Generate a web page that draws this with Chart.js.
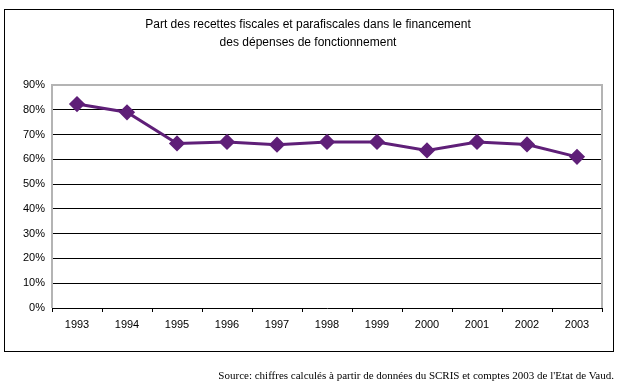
<!DOCTYPE html>
<html lang="fr">
<head>
<meta charset="utf-8">
<script src="https://cdn.jsdelivr.net/npm/chart.js@4"></script>
<style>
  html, body { margin: 0; padding: 0; background: #fff; }
  #wrap { position: relative; width: 623px; height: 392px; }
  #source {
    position: absolute; right: 9px; top: 369px;
    font: 11px "Liberation Serif", "DejaVu Serif", serif; color: #000;
    white-space: nowrap;
  }
</style>
</head>
<body>
<div id="wrap">
  <canvas id="chart" width="623" height="392"></canvas>
  <div id="source">Source: chiffres calculés à partir de données du SCRIS et comptes 2003 de l'Etat de Vaud.</div>
</div>
<script>
// Data
const years = ["1993", "1994", "1995", "1996", "1997", "1998", "1999", "2000", "2001", "2002", "2003"];
const shareValues = [82.3, 79, 66.4, 67, 65.9, 67, 67, 63.6, 67, 66, 61];
const titleLines = [
  "Part des recettes fiscales et parafiscales dans le financement",
  "des dépenses de fonctionnement"
];

// outer frame, title and grey plot border
const framePlugin = {
  id: "frame",
  beforeDraw(chart) {
    const ctx = chart.ctx;
    ctx.save();
    ctx.strokeStyle = "#000";
    ctx.lineWidth = 1;
    ctx.strokeRect(4.5, 9.5, 609, 342);
    ctx.fillStyle = "#000";
    ctx.font = '12px "Liberation Sans", Arial, sans-serif';
    ctx.textAlign = "center";
    ctx.textBaseline = "middle";
    ctx.fillText(titleLines[0], 308, 25);
    ctx.fillText(titleLines[1], 308, 43);
    ctx.restore();
  },
  afterDatasetsDraw() {},
  beforeDatasetsDraw(chart) {
    const a = chart.chartArea;
    const ctx = chart.ctx;
    ctx.save();
    ctx.strokeStyle = "#b4b4b4";
    ctx.lineWidth = 2;
    ctx.beginPath();
    ctx.moveTo(a.left, a.bottom);
    ctx.lineTo(a.left, a.top);
    ctx.lineTo(a.right, a.top);
    ctx.lineTo(a.right, a.bottom);
    ctx.stroke();
    ctx.restore();
  }
};

const ctx = document.getElementById("chart").getContext("2d");
new Chart(ctx, {
  type: "line",
  data: {
    labels: years,
    datasets: [{
      data: shareValues,
      borderColor: "#5f1f78",
      backgroundColor: "#5f1f78",
      borderWidth: 3,
      pointStyle: "rectRot",
      pointRadius: 6,
      pointHoverRadius: 6,
      tension: 0,
      fill: false
    }]
  },
  options: {
    responsive: false,
    animation: false,
    layout: { padding: { left: 0, right: 21, top: 85, bottom: 54 } },
    plugins: {
      legend: { display: false },
      title: { display: false },
      tooltip: { enabled: false }
    },
    scales: {
      x: {
        offset: true,
        grid: {
          offset: true,
          drawOnChartArea: false,
          drawTicks: true,
          tickLength: 4,
          color: "#000"
        },
        border: { color: "#000", width: 1 },
        ticks: {
          color: "#000",
          padding: 6,
          font: { family: '"Liberation Sans", Arial, sans-serif', size: 11 },
          maxRotation: 0
        },
        afterFit(scale) { scale.height = 30; }
      },
      y: {
        min: 0,
        max: 90,
        ticks: {
          stepSize: 10,
          color: "#000",
          padding: 7,
          font: { family: '"Liberation Sans", Arial, sans-serif', size: 11 },
          callback: v => v + "%"
        },
        grid: {
          drawTicks: false,
          color: c => (c.tick && (c.tick.value === 0 || c.tick.value === 90)) ? "rgba(0,0,0,0)" : "#000",
          lineWidth: 1
        },
        border: { display: false },
        afterFit(scale) { scale.width = 52; }
      }
    }
  },
  plugins: [framePlugin]
});
</script>
</body>
</html>
